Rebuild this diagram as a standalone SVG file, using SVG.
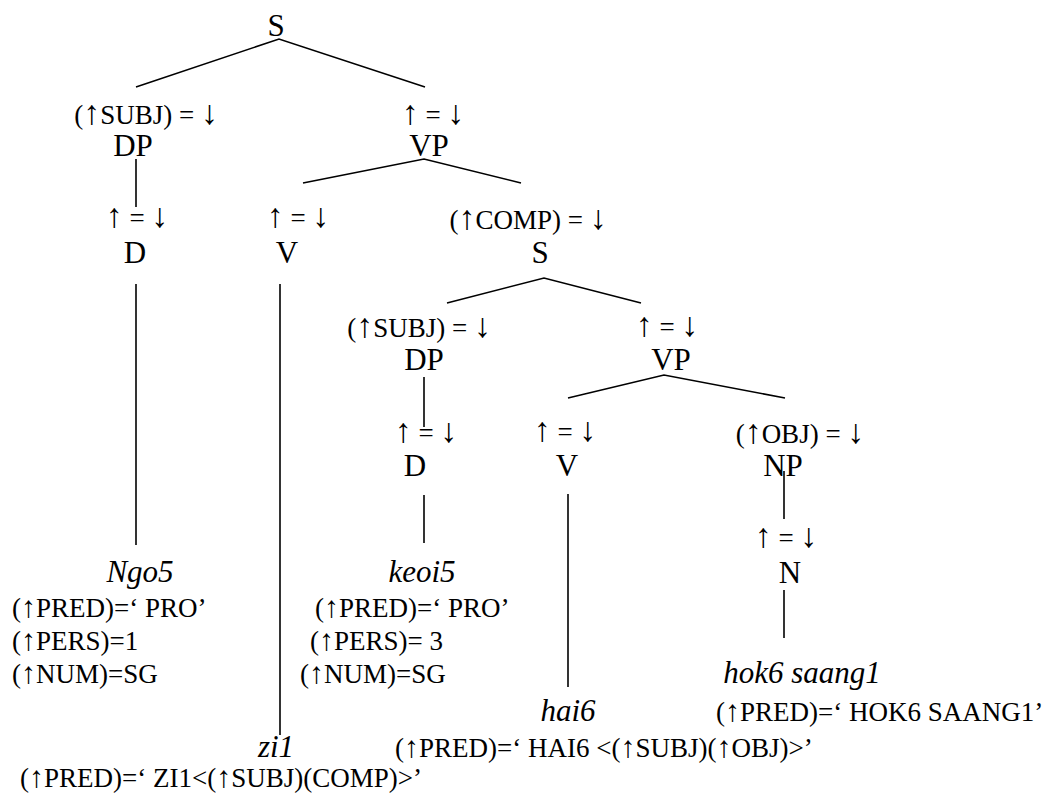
<svg xmlns="http://www.w3.org/2000/svg" width="1042" height="799" viewBox="0 0 1042 799">
<style>
text{font-family:"Liberation Serif","Times New Roman",serif;fill:#000}
.cat{font-size:31px;text-anchor:middle}
.ann{font-size:27px;text-anchor:middle}
.lex{font-size:31px;font-style:italic;text-anchor:middle}
.feat{font-size:27px}
.ar{font-size:34px}
.fa{font-size:30px}
.edge{stroke:#000;stroke-width:1.6;fill:none}
</style>
<rect width="1042" height="799" fill="#fff"/>
<g id="connectors" class="edge">
<polyline points="136,87 279,39 425,87"/>
<line x1="136" y1="159" x2="136" y2="207"/>
<polyline points="303,183 424,159 521,183"/>
<line x1="136" y1="284" x2="136" y2="545"/>
<line x1="280" y1="284" x2="280" y2="735"/>
<polyline points="447,303 544,278 641,303"/>
<line x1="424" y1="377" x2="424" y2="427"/>
<polyline points="568,398 664,375 785,398"/>
<line x1="424" y1="495" x2="424" y2="543"/>
<line x1="568" y1="494" x2="568" y2="687"/>
<line x1="784" y1="471" x2="784" y2="519"/>
<line x1="784" y1="590" x2="784" y2="638"/>
</g>
<g id="node-S"><text class="cat" x="276" y="36">S</text></g>
<g id="node-DP"><text class="ann" x="146" y="124">(<tspan class="ar">↑</tspan>SUBJ) = <tspan class="ar">↓</tspan></text><text class="cat" x="133" y="156">DP</text></g>
<g id="node-VP"><text class="ann" x="433" y="124"><tspan class="ar">↑</tspan> = <tspan class="ar">↓</tspan></text><text class="cat" x="429" y="156">VP</text></g>
<g id="node-D"><text class="ann" x="137" y="227"><tspan class="ar">↑</tspan> = <tspan class="ar">↓</tspan></text><text class="cat" x="135" y="263">D</text></g>
<g id="node-V"><text class="ann" x="298" y="227"><tspan class="ar">↑</tspan> = <tspan class="ar">↓</tspan></text><text class="cat" x="287" y="263">V</text></g>
<g id="node-S2"><text class="ann" x="528" y="229">(<tspan class="ar">↑</tspan>COMP) = <tspan class="ar">↓</tspan></text><text class="cat" x="540" y="263">S</text></g>
<g id="node-DP2"><text class="ann" x="419" y="337">(<tspan class="ar">↑</tspan>SUBJ) = <tspan class="ar">↓</tspan></text><text class="cat" x="424" y="370">DP</text></g>
<g id="node-VP2"><text class="ann" x="667" y="336"><tspan class="ar">↑</tspan> = <tspan class="ar">↓</tspan></text><text class="cat" x="671" y="370">VP</text></g>
<g id="node-D2"><text class="ann" x="426" y="442"><tspan class="ar">↑</tspan> = <tspan class="ar">↓</tspan></text><text class="cat" x="415" y="476">D</text></g>
<g id="node-V2"><text class="ann" x="565" y="441"><tspan class="ar">↑</tspan> = <tspan class="ar">↓</tspan></text><text class="cat" x="567" y="476">V</text></g>
<g id="node-NP"><text class="ann" x="800" y="443">(<tspan class="ar">↑</tspan>OBJ) = <tspan class="ar">↓</tspan></text><text class="cat" x="783" y="476">NP</text></g>
<g id="node-N"><text class="ann" x="786" y="547"><tspan class="ar">↑</tspan> = <tspan class="ar">↓</tspan></text><text class="cat" x="790" y="583">N</text></g>
<g id="node-ngo5"><text class="lex" x="140" y="582">Ngo5</text>
<text class="feat" x="12" y="617">(<tspan class="fa">↑</tspan>PRED)=‘ PRO’</text>
<text class="feat" x="12" y="650">(<tspan class="fa">↑</tspan>PERS)=1</text>
<text class="feat" x="12" y="683">(<tspan class="fa">↑</tspan>NUM)=SG</text></g>
<g id="node-keoi5"><text class="lex" x="422" y="582">keoi5</text>
<text class="feat" x="315" y="617">(<tspan class="fa">↑</tspan>PRED)=‘ PRO’</text>
<text class="feat" x="310" y="650">(<tspan class="fa">↑</tspan>PERS)= 3</text>
<text class="feat" x="300" y="683">(<tspan class="fa">↑</tspan>NUM)=SG</text></g>
<g id="node-zi1"><text class="lex" x="276" y="757">zi1</text>
<text class="feat" x="20" y="787">(<tspan class="fa">↑</tspan>PRED)=‘ ZI1&lt;(<tspan class="fa">↑</tspan>SUBJ)(COMP)&gt;’</text></g>
<g id="node-hai6"><text class="lex" x="568" y="721">hai6</text>
<text class="feat" x="395" y="757">(<tspan class="fa">↑</tspan>PRED)=‘ HAI6 &lt;(<tspan class="fa">↑</tspan>SUBJ)(<tspan class="fa">↑</tspan>OBJ)&gt;’</text></g>
<g id="node-hok6"><text class="lex" x="802" y="683">hok6 saang1</text>
<text class="feat" x="716" y="721">(<tspan class="fa">↑</tspan>PRED)=‘ HOK6 SAANG1’</text></g>
</svg>
